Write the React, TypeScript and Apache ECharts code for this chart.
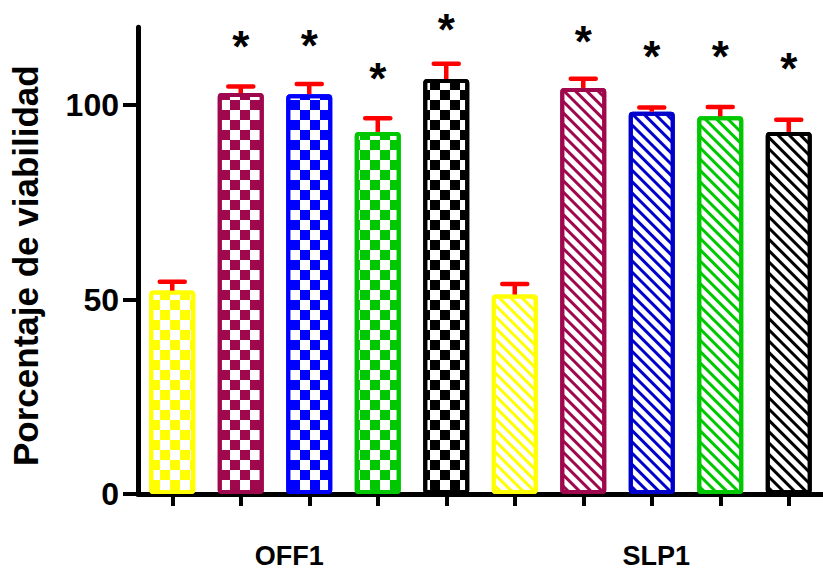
import React, { useEffect, useRef } from "react";
import * as echarts from "echarts";

const categories = [
  "OFF1-1", "OFF1-2", "OFF1-3", "OFF1-4", "OFF1-5",
  "SLP1-1", "SLP1-2", "SLP1-3", "SLP1-4", "SLP1-5",
];
const groupLabels: Record<number, string> = { 2: "OFF1", 7: "SLP1" };
const means = [52.3, 103.1, 102.8, 93.1, 106.7, 51.3, 104.4, 98.3, 97.1, 93.1];
const errors = [2.3, 1.7, 2.6, 3.5, 3.9, 2.7, 2.4, 1.1, 2.4, 3.1];
const asterisks: (number | null)[] = [null, 117.0, 117.3, 108.8, 121.4, null, 118.3, 114.4, 114.4, 111.3];
const colors = [
  "#FFFF00", "#A0084E", "#0000FF", "#00C800", "#000000",
  "#FFFF00", "#A0084E", "#0000CC", "#00C800", "#000000",
];
const patterns = ["checker", "checker", "checker", "checker", "checker",
  "stripes", "stripes", "stripes", "stripes", "stripes"];
const yTicks = [0, 50, 100];

const FONT = "Liberation Sans, Arial, sans-serif";

function decalFor(kind: string, color: string) {
  if (kind === "checker") {
    const s = 9.5;
    return {
      symbol: "rect",
      symbolSize: 1,
      color,
      dashArrayX: [[s, s], [0, s, s, 0]],
      dashArrayY: [s, 0],
      rotation: 0,
    };
  }
  return {
    symbol: "rect",
    symbolSize: 1,
    color,
    dashArrayX: [1, 0],
    dashArrayY: [2.4, 4.7],
    rotation: Math.PI / 4,
  };
}

export default function App() {
  const ref = useRef<HTMLDivElement>(null);
  useEffect(() => {
    if (!ref.current) return;
    const chart = echarts.init(ref.current, undefined, { renderer: "svg" });
    const starSize = 44;
    chart.setOption({
      animation: false,
      backgroundColor: "#ffffff",
      grid: { left: 132.5, right: -7, top: 27.3, bottom: 77, containLabel: false },
      xAxis: {
        type: "category",
        data: categories,
        boundaryGap: true,
        axisLine: { show: true, lineStyle: { color: "#000", width: 5 } },
        axisTick: { show: true, alignWithLabel: true, interval: 0, length: 12, lineStyle: { color: "#000", width: 4 } },
        axisLabel: {
          interval: 0,
          margin: 48,
          formatter: (_v: string, i: number) =>
            i === 2 ? `{a|${groupLabels[2]}}` : i === 7 ? `{b|${groupLabels[7]}}` : "",
          rich: {
            a: { fontFamily: FONT, fontWeight: "bold", fontSize: 27, color: "#000", padding: [0, 40, 0, 0] },
            b: { fontFamily: FONT, fontWeight: "bold", fontSize: 27, color: "#000", padding: [0, 0, 0, 9] },
          },
        },
        splitLine: { show: false },
      },
      yAxis: {
        type: "value",
        min: 0,
        max: 120,
        name: "Porcentaje de viabilidad",
        nameLocation: "middle",
        nameGap: 95,
        nameTextStyle: { fontFamily: FONT, fontWeight: "bold", fontSize: 35, color: "#000", padding: [0, 10, 0, 0] },
        axisLine: { show: true, lineStyle: { color: "#000", width: 5 } },
        axisTick: { show: true, length: 15, customValues: yTicks, lineStyle: { color: "#000", width: 4 } },
        axisLabel: {
          customValues: yTicks,
          margin: 19,
          fontFamily: FONT,
          fontWeight: "bold",
          fontSize: 32,
          color: "#000",
        },
        splitLine: { show: false },
      },
      series: [
        {
          type: "bar",
          barWidth: 46,
          data: means.map((m, i) => ({
            value: m,
            itemStyle: {
              color: "#ffffff",
              borderColor: colors[i],
              borderWidth: 4,
              borderRadius: 2,
              decal: decalFor(patterns[i], colors[i]),
            },
          })),
          z: 2,
        },
        {
          type: "custom",
          data: means.map((m, i) => [i, m, errors[i]]),
          z: 3,
          renderItem: (params: any, api: any) => {
            const i = api.value(0);
            const m = api.value(1);
            const e = api.value(2);
            const p0 = api.coord([i, m]);
            const p1 = api.coord([i, m + e]);
            const half = 12.5;
            return {
              type: "group",
              children: [
                { type: "line", shape: { x1: p0[0], y1: p0[1], x2: p1[0], y2: p1[1] }, style: { stroke: "#FF0000", lineWidth: 4.5 } },
                { type: "line", shape: { x1: p1[0] - half, y1: p1[1], x2: p1[0] + half, y2: p1[1] }, style: { stroke: "#FF0000", lineWidth: 4.5, lineCap: "round" } },
              ],
            };
          },
        },
        {
          type: "custom",
          data: asterisks.map((a, i) => (a == null ? [i, "-"] : [i, a])),
          z: 4,
          renderItem: (params: any, api: any) => {
            const v = api.value(1);
            if (v == null || isNaN(v)) return null;
            const p = api.coord([api.value(0), v]);
            return {
              type: "text",
              x: p[0],
              y: p[1] + 0.165 * starSize,
              style: {
                text: "*",
                fontFamily: FONT,
                fontWeight: "bold",
                fontSize: starSize,
                fill: "#000",
                align: "center",
                verticalAlign: "middle",
              },
            };
          },
        },
      ],
    });
    return () => chart.dispose();
  }, []);
  return <div ref={ref} style={{ width: 823, height: 571, position: "absolute", left: 0, top: 0 }} />;
}
